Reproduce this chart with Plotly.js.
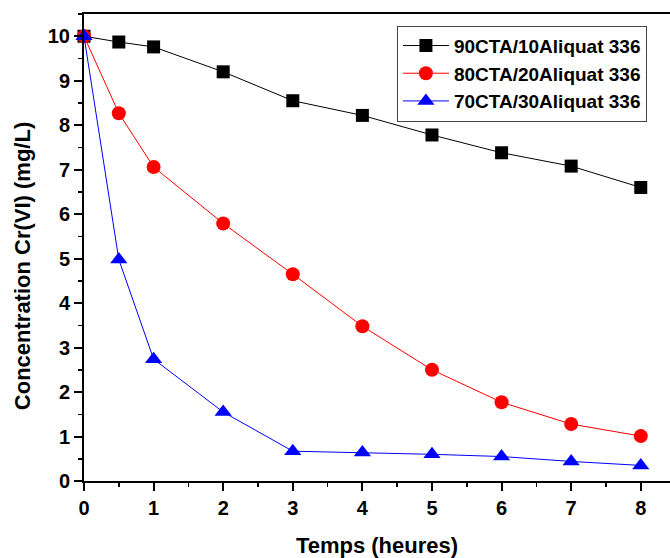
<!DOCTYPE html>
<html><head><meta charset="utf-8">
<script src="https://cdn.plot.ly/plotly-3.0.1.min.js"></script>
<style>body{margin:0;padding:0;background:#fff}#chart{width:670px;height:558px}</style>
</head><body><div id="chart"></div>
<script>
var time = [0, 0.5, 1, 2, 3, 4, 5, 6, 7, 8];
var s90 = [10, 9.87, 9.76, 9.2, 8.55, 8.22, 7.78, 7.38, 7.08, 6.6];
var s80 = [10, 8.27, 7.06, 5.79, 4.65, 3.48, 2.5, 1.77, 1.28, 1.01];
var s70 = [10, 4.98, 2.74, 1.55, 0.67, 0.64, 0.6, 0.55, 0.44, 0.35];
var names = ['90CTA/10Aliquat 336', '80CTA/20Aliquat 336', '70CTA/30Aliquat 336'];
var xTitle = 'Temps (heures)';
var yTitle = 'Concentration Cr(VI) (mg/L)';

var F = 'Arial, "Liberation Sans", sans-serif';
function tr(y, name, color, sym, size) {
  return {x: time, y: y, name: name, type: 'scatter', mode: 'lines+markers', cliponaxis: false,
    line: {color: color, width: 1}, marker: {symbol: sym, size: size, color: color}};
}
var data = [
  tr(s90, names[0], '#000000', 'square', 13),
  tr(s80, names[1], '#ff0000', 'circle', 14),
  tr(s70, names[2], '#0000ff', 'triangle-up', 15)
];
var layout = {
  width: 670, height: 558,
  margin: {l: 84, r: 0, t: 14, b: 77},
  paper_bgcolor: '#fff', plot_bgcolor: '#fff',
  showlegend: true,
  legend: {x: 0.534, y: 0.975, xanchor: 'left', yanchor: 'top', bgcolor: '#fff',
    bordercolor: '#444', borderwidth: 1, tracegroupgap: 0, itemwidth: 46,
    font: {family: F, size: 19, color: '#000', weight: 'bold'}},
  xaxis: {range: [0, 8.42], tickvals: [0,1,2,3,4,5,6,7,8], showgrid: false, zeroline: false,
    showline: true, linecolor: '#000', linewidth: 2, mirror: true,
    ticks: 'outside', ticklen: 8, tickwidth: 2, tickcolor: '#000',
    minor: {dtick: 0.5, tick0: 0, ticks: 'outside', ticklen: 4, tickwidth: 1.5, tickcolor: '#000'},
    tickfont: {family: F, size: 20, color: '#000', weight: 'bold'},
    title: {text: xTitle, standoff: 22, font: {family: F, size: 22, color: '#000', weight: 'bold'}}},
  yaxis: {range: [0, 10.5], tickvals: [0,1,2,3,4,5,6,7,8,9,10], showgrid: false, zeroline: false,
    showline: true, linecolor: '#000', linewidth: 2, mirror: false,
    ticks: 'outside', ticklen: 8, tickwidth: 2, tickcolor: '#000',
    minor: {dtick: 0.5, tick0: 0, ticks: 'outside', ticklen: 4, tickwidth: 1.5, tickcolor: '#000'},
    tickfont: {family: F, size: 20, color: '#000', weight: 'bold'}},
  annotations: [{text: yTitle, xref: 'paper', yref: 'paper', x: -0.1058, y: 0.46,
    xanchor: 'center', yanchor: 'middle', textangle: -90, showarrow: false,
    font: {family: F, size: 22, color: '#000', weight: 'bold'}}]
};
Plotly.newPlot('chart', data, layout, {displayModeBar: false, staticPlot: true});
</script></body></html>
